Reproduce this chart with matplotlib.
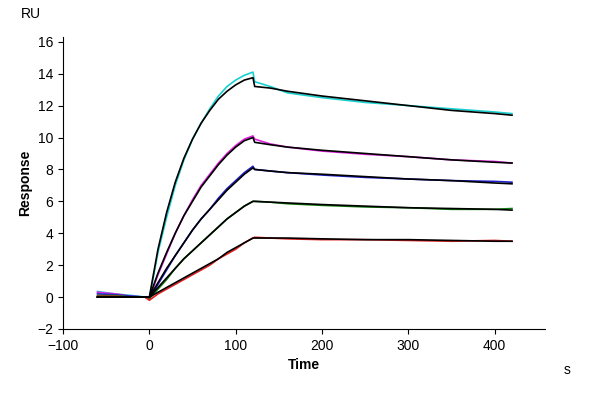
import matplotlib
matplotlib.use("Agg")
import matplotlib.pyplot as plt
plt.rcParams["font.family"] = "Liberation Sans"

t = [-60, -40, -20, -5, 0, 10, 20, 30, 40, 50, 60, 70, 80, 90, 100, 110, 120,
     122, 140, 160, 200, 250, 300, 350, 400, 420]

fit1 = [0, 0, 0, 0, 0, 3.0, 5.3, 7.2, 8.7, 9.9, 10.9, 11.7, 12.4, 12.9, 13.3, 13.6, 13.75,
        13.2, 13.1, 12.9, 12.6, 12.3, 12.0, 11.7, 11.5, 11.4]
fit2 = [0, 0, 0, 0, 0, 1.5, 2.8, 4.0, 5.1, 6.0, 6.9, 7.6, 8.3, 8.9, 9.4, 9.8, 10.0,
        9.7, 9.55, 9.4, 9.2, 9.0, 8.8, 8.6, 8.45, 8.4]
fit3 = [0, 0, 0, 0, 0, 0.9, 1.8, 2.6, 3.4, 4.2, 4.9, 5.5, 6.1, 6.7, 7.2, 7.7, 8.1,
        8.0, 7.9, 7.8, 7.7, 7.55, 7.4, 7.3, 7.15, 7.1]
fit4 = [0, 0, 0, 0, 0, 0.6, 1.2, 1.8, 2.4, 2.9, 3.4, 3.9, 4.4, 4.9, 5.3, 5.7, 6.0,
        6.0, 5.95, 5.9, 5.8, 5.7, 5.6, 5.55, 5.5, 5.45]
fit5 = [0, 0, 0, 0, 0, 0.3, 0.6, 0.9, 1.2, 1.5, 1.8, 2.1, 2.4, 2.8, 3.1, 3.4, 3.7,
        3.7, 3.7, 3.7, 3.65, 3.6, 3.6, 3.55, 3.5, 3.5]

dat1 = [0.35, 0.2, 0.1, 0.0, -0.1, 2.8, 5.0, 7.0, 8.6, 9.9, 10.9, 11.8, 12.6, 13.2, 13.6, 13.9, 14.1,
        13.5, 13.2, 12.8, 12.5, 12.2, 12.0, 11.8, 11.6, 11.5]
dat2 = [0.3, 0.2, 0.05, 0.0, -0.1, 1.4, 2.7, 4.0, 5.1, 6.1, 7.0, 7.7, 8.4, 9.0, 9.5, 9.9, 10.1,
        9.9, 9.6, 9.4, 9.15, 8.95, 8.8, 8.6, 8.5, 8.4]
dat3 = [0.2, 0.15, 0.05, 0.0, -0.1, 0.8, 1.7, 2.6, 3.4, 4.2, 4.9, 5.5, 6.2, 6.8, 7.3, 7.8, 8.2,
        8.0, 7.9, 7.8, 7.65, 7.5, 7.4, 7.3, 7.25, 7.2]
dat4 = [0.1, 0.1, 0.0, 0.0, -0.1, 0.5, 1.1, 1.8, 2.4, 2.9, 3.4, 3.9, 4.4, 4.9, 5.3, 5.7, 6.0,
        6.0, 5.95, 5.85, 5.75, 5.65, 5.6, 5.5, 5.5, 5.55]
dat5 = [0.05, 0.05, 0.0, 0.0, -0.2, 0.2, 0.5, 0.8, 1.1, 1.4, 1.7, 2.0, 2.4, 2.7, 3.0, 3.4, 3.7,
        3.75, 3.7, 3.65, 3.6, 3.6, 3.55, 3.5, 3.55, 3.5]

data = [dat1, dat2, dat3, dat4, dat5]
fits = [fit1, fit2, fit3, fit4, fit5]
colors = ["#19d0d0", "#e020e0", "#2020d0", "#108010", "#e02020"]

fig = plt.figure(figsize=(6, 4), dpi=100)
ax = fig.add_axes([0.105, 0.1775, 0.803, 0.73])
for d, c in zip(data, colors):
    ax.plot(t, d, color=c, lw=1.2)
for f in fits:
    ax.plot(t, f, color="black", lw=1.2)

ax.set_xlim(-100, 458)
ax.set_ylim(-2, 16.3)
ax.set_xticks([-100, 0, 100, 200, 300, 400])
ax.set_yticks(range(-2, 17, 2))
ax.spines["top"].set_visible(False)
ax.spines["right"].set_visible(False)
ax.tick_params(labelsize=10)
ax.set_xlabel("Time", fontweight="bold", fontsize=10)
ax.set_ylabel("Response", fontweight="bold", fontsize=10)
fig.text(0.035, 0.955, "RU", fontsize=10)
fig.text(0.94, 0.065, "s", fontsize=10)
fig.savefig("out.png", dpi=100)
